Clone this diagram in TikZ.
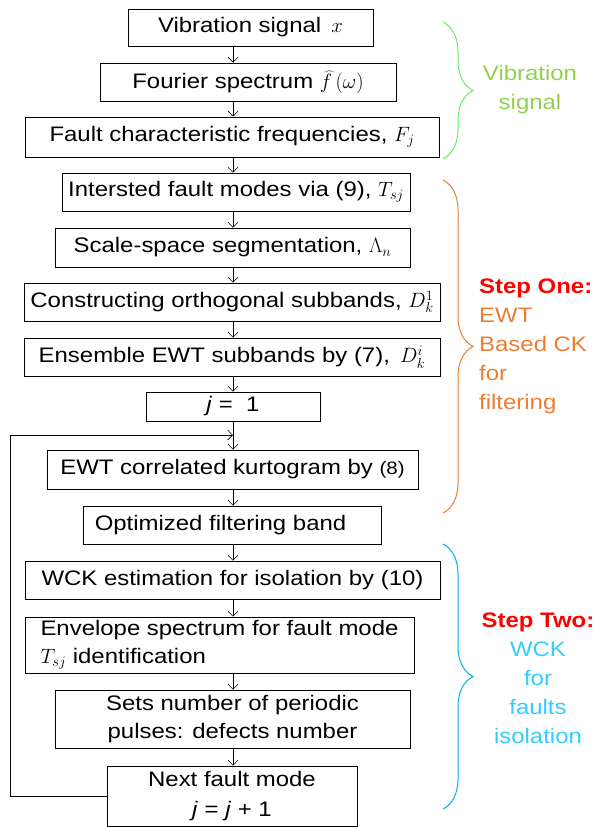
\documentclass[tikz,border=0pt]{standalone}
\usepackage{fontspec}
\setmainfont{Liberation Sans}[FakeStretch=1.14]
\usetikzlibrary{arrows.meta, decorations.pathreplacing}

\definecolor{vsgreen}{HTML}{66EE66}
\definecolor{vstext}{HTML}{92D050}
\definecolor{oneorange}{HTML}{ED7D31}
\definecolor{twoblue}{HTML}{00B0F0}
\definecolor{twotext}{HTML}{33CCFF}

\begin{document}
\begin{tikzpicture}[x=1pt, y=-1pt,
	stage/.style = {shape=rectangle, draw, line width=0.8pt, align=center, inner sep=0pt,
		font=\fontsize{21}{28}\selectfont},
	flow/.style = {draw, line width=0.6pt, -{Straight Barb[length=5pt, width=10pt]}},
	side/.style = {decorate, decoration={brace, amplitude=30pt, aspect=0.5}, line width=1pt},
	tag/.style = {font=\fontsize{21}{29}\selectfont, inner sep=0pt}]
	\useasboundingbox (0,0) rectangle (596,827);
	\coordinate (ax) at (233,0);
	% vibration signal part
	\node[stage, minimum width=245pt, minimum height=37pt] (VS) at (250.5,27.5) {Vibration signal \,$x$};
	\node[stage, minimum width=296pt, minimum height=38pt] (FS) at (248,82) {Fourier spectrum $\widehat{f}\,(\omega)$};
	\node[stage, minimum width=414pt, minimum height=40pt] (FC) at (232,137) {Fault characteristic frequencies, $F_j$};
	% step one
	\node[stage, minimum width=348pt, minimum height=38pt] (IM) at (236,192) {Intersted fault modes via (9), $T_{sj}$};
	\node[stage, minimum width=355pt, minimum height=39pt] (SS) at (232.5,247.5) {Scale-space segmentation, $\Lambda_n$};
	\node[stage, minimum width=416pt, minimum height=38pt] (CO) at (232,302) {Constructing orthogonal subbands, $D_k^1$};
	\node[stage, minimum width=416pt, minimum height=38pt] (EN) at (232,357) {Ensemble EWT subbands by (7), \,$D_k^i$};
	\node[stage, minimum width=174pt, minimum height=29pt] (J1) at (233,406.5) {\textit{j} = \ 1};
	\node[stage, minimum width=371pt, minimum height=39pt] (KG) at (232.5,469.5) {EWT correlated kurtogram by {\fontsize{18}{20}\selectfont(8)}};
	\node[stage, minimum width=298pt, minimum height=38pt] (OB) at (232,525) {Optimized filtering band\hspace{23pt}};
	% step two
	\node[stage, minimum width=415pt, minimum height=38pt] (WE) at (232.5,580) {WCK estimation for isolation by (10)};
	\node[stage, minimum width=389pt, minimum height=56pt, align=left] (ES) at (219.5,645) {Envelope spectrum for fault mode\\$T_{sj}$ identification};
	\node[stage, minimum width=355pt, minimum height=58pt] (SN) at (232.5,719) {Sets number of periodic\\pulses: defects number};
	\node[stage, minimum width=250pt, minimum height=60pt, font=\fontsize{21}{30}\selectfont] (NF) at (232,796) {Next fault mode\\\textit{j} = \textit{j} + 1};
	\coordinate (lc) at (10,435);
	\coordinate (jn) at (233,435);
	% arrows
	\foreach \a/\b in {VS/FS, FS/FC, FC/IM, IM/SS, SS/CO, CO/EN, EN/J1, J1/KG, KG/OB, OB/WE, WE/ES, ES/SN, SN/NF}
		\draw[flow] (\a.south -| ax) -- (\b.north -| ax);
	\draw[flow] (NF.west) -| (lc) -- (jn);
	% braces
	\draw[side, vsgreen] (443,22) -- (443,159);
	\draw[side, oneorange] (443,180) -- (443,513);
	\draw[side, twoblue] (443,544) -- (443,809);
	\node[tag, vstext, align=center] (VL) at (530,90) {Vibration\\signal};
	\node[tag, oneorange, align=left, anchor=west] (OL) at (479,346) {\textcolor{red}{\textbf{Step One:}}\\EWT\\Based CK\\for\\filtering};
	\node[tag, twotext, align=center] (TL) at (538,678) {\textcolor{red}{\textbf{Step Two:}}\\WCK\\for\\faults\\isolation};
\end{tikzpicture}
\end{document}
